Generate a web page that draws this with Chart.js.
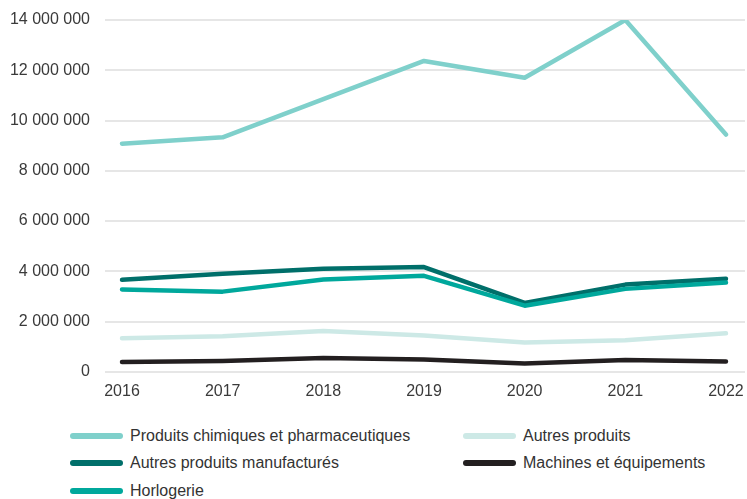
<!DOCTYPE html>
<html>
<head>
<meta charset="utf-8">
<script src="https://cdn.jsdelivr.net/npm/chart.js@4.4.1/dist/chart.umd.min.js"></script>
<style>
  html, body { margin: 0; padding: 0; background: #fff; }
  #wrap { position: relative; width: 747px; height: 499px; }
  #chartBox { position: absolute; left: 0; top: 0; width: 747px; height: 410px; }
  #legend {
    position: absolute; left: 70px; top: 422px;
    display: grid; grid-template-columns: 393px 280px; grid-auto-rows: 27.5px;
    font-family: "Liberation Sans", Arial, sans-serif; font-size: 16px; color: #333;
  }
  .item { display: flex; align-items: center; white-space: nowrap; }
  .swatch { flex: 0 0 53px; height: 6px; border-radius: 3px; margin-right: 7px; }
</style>
</head>
<body>
<div id="wrap">
  <div id="chartBox"><canvas id="chartExport"></canvas></div>
  <div id="legend"></div>
</div>
<script>
// années et valeurs
const annees = [2016, 2017, 2018, 2019, 2020, 2021, 2022];
const chimiques = [9080000, 9330000, 10850000, 12370000, 11700000, 14000000, 9440000];
const autresProduits = [1340000, 1410000, 1620000, 1440000, 1170000, 1260000, 1530000];
const manufactures = [3660000, 3900000, 4100000, 4170000, 2740000, 3470000, 3700000];
const machines = [390000, 430000, 550000, 490000, 330000, 470000, 410000];
const horlogerie = [3280000, 3190000, 3670000, 3820000, 2630000, 3300000, 3550000];
const yTicks = [0, 2000000, 4000000, 6000000, 8000000, 10000000, 12000000, 14000000];

const toPoints = arr => arr.map((v, i) => ({ x: annees[i], y: v }));

const fmt = v => String(v).replace(/\B(?=(\d{3})+(?!\d))/g, ' ');

document.addEventListener("DOMContentLoaded", function () {
    const ctx = document.getElementById('chartExport').getContext('2d');

    const ligne = (label, data, color, order) => ({
        label: label,
        data: toPoints(data),
        borderColor: color,
        backgroundColor: color,
        borderWidth: 4.5,
        pointRadius: 0,
        borderCapStyle: 'round',
        borderJoinStyle: 'round',
        tension: 0,
        fill: false,
        order: order
    });

    const chart = new Chart(ctx, {
        type: 'line',
        data: {
            datasets: [
                ligne('Produits chimiques et pharmaceutiques', chimiques, '#7fd0cb', 0),
                ligne('Autres produits', autresProduits, '#cde9e6', 1),
                ligne('Autres produits manufacturés', manufactures, '#006f6a', 2),
                ligne('Machines et équipements', machines, '#231f20', 1),
                ligne('Horlogerie', horlogerie, '#00a89c', 1)
            ]
        },
        options: {
            responsive: true,
            maintainAspectRatio: false,
            animation: false,
            layout: { padding: { top: 20, right: 2, bottom: 7, left: 0 } },
            plugins: {
                legend: { display: false },
                tooltip: { enabled: false }
            },
            scales: {
                x: {
                    type: 'linear',
                    min: 2015.831,
                    max: 2022.189,
                    afterBuildTicks: axis => { axis.ticks = annees.map(v => ({ value: v })); },
                    ticks: {
                        color: '#3a3a3a',
                        font: { family: 'Liberation Sans', size: 16 },
                        padding: 2,
                        maxRotation: 0,
                        callback: v => String(v)
                    },
                    grid: { display: false },
                    border: { display: false }
                },
                y: {
                    min: 0,
                    max: 14000000,
                    afterBuildTicks: axis => { axis.ticks = yTicks.map(v => ({ value: v })); },
                    afterFit: axis => {
                        axis.width = 105;
                        axis.paddingTop = 0;
                        axis.paddingBottom = 0;
                    },
                    ticks: {
                        color: '#3a3a3a',
                        font: { family: 'Liberation Sans', size: 16 },
                        padding: 15,
                        callback: v => fmt(v)
                    },
                    grid: { color: '#e6e6e6', lineWidth: 2, drawTicks: false },
                    border: { display: false }
                }
            }
        }
    });

    // légende HTML en deux colonnes
    const legend = document.getElementById('legend');
    chart.data.datasets.forEach(ds => {
        const item = document.createElement('div');
        item.className = 'item';
        const sw = document.createElement('span');
        sw.className = 'swatch';
        sw.style.background = ds.borderColor;
        const txt = document.createElement('span');
        txt.textContent = ds.label;
        item.appendChild(sw);
        item.appendChild(txt);
        legend.appendChild(item);
    });
});
</script>
</body>
</html>
